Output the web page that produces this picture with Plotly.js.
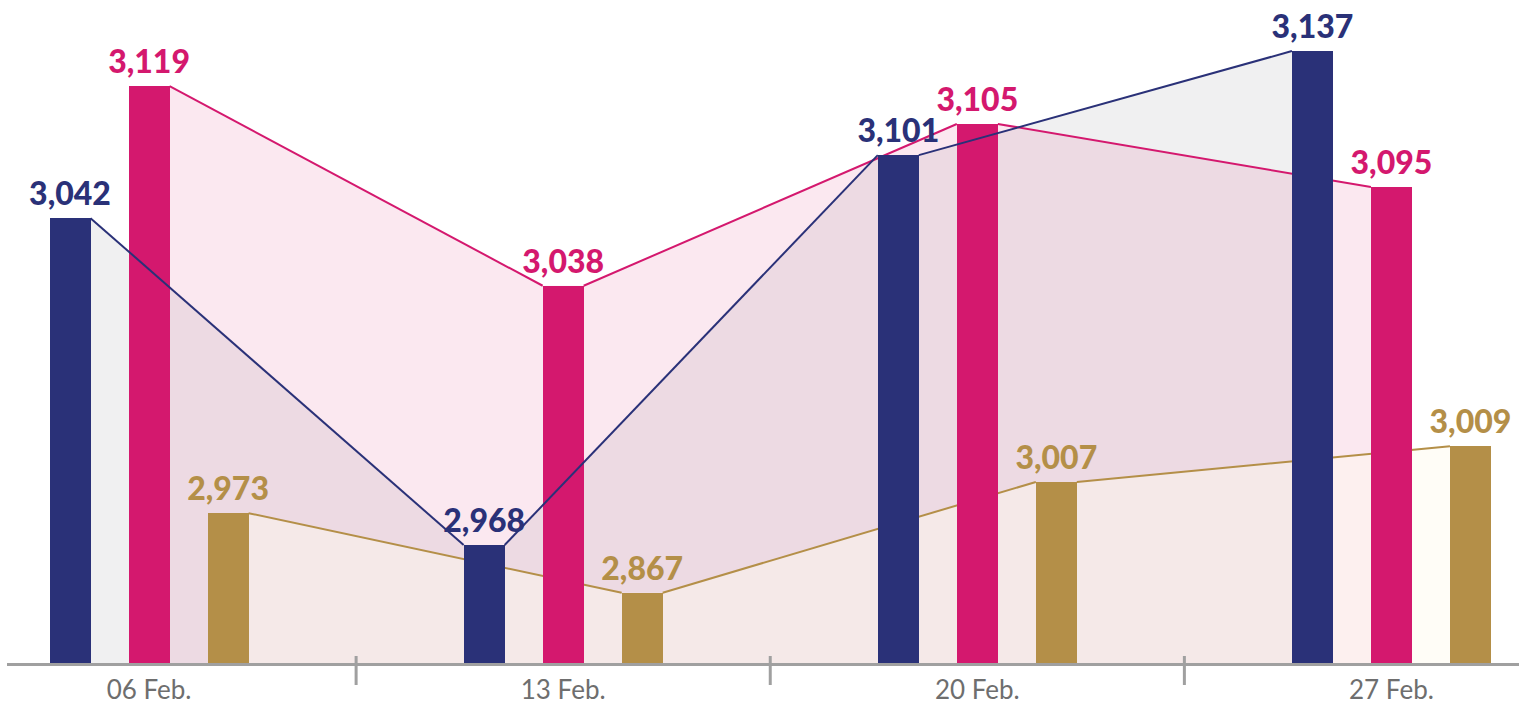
<!DOCTYPE html>
<html>
<head>
<meta charset="utf-8">
<script src="https://cdn.plot.ly/plotly-3.0.1.min.js"></script>
<style>
  html, body { margin: 0; padding: 0; background: #ffffff; }
  #chart { width: 1530px; height: 704px; }
</style>
</head>
<body>
<div id="chart"></div>
<script>
// ---- data ----
const weeks = ['06 Feb.', '13 Feb.', '20 Feb.', '27 Feb.'];
const navyValues = [3042, 2968, 3101, 3137];
const magentaValues = [3119, 3038, 3105, 3095];
const goldValues = [2973, 2867, 3007, 3009];
// bar heights as drawn in the original (percent of plot height; the infographic is not to scale)
const navyHeights = [67.1, 17.8, 76.6, 92.3];
const magentaHeights = [87.0, 56.9, 81.3, 71.8];
const goldHeights = [22.6, 10.6, 27.3, 32.7];

// ---- styling ----
const NAVY = '#2a3178', MAGENTA = '#d4186e', GOLD = '#b48f48';
const pitch = 0.1908, barW = 0.099;
const groupIdx = weeks.map((_, i) => i);
const labelFont = (c) => ({ family: 'Lato, "Open Sans", sans-serif', size: 32, weight: 900, color: c });

function fmt(v) { return v.toLocaleString('en-US'); }

function series(offset, heights) {
  // polyline from each bar's top-right corner to the next bar's top-left corner
  const fx = [], fy = [], lx = [], ly = [];
  for (let i = 0; i < heights.length; i++) {
    const c = groupIdx[i] + offset;
    if (i > 0) { fx.push(c - barW / 2); fy.push(heights[i]); lx.push(c - barW / 2); ly.push(heights[i]); }
    if (i < heights.length - 1) {
      fx.push(c + barW / 2); fy.push(heights[i]);
      if (i > 0) { lx.push(null); ly.push(null); }
      lx.push(c + barW / 2); ly.push(heights[i]);
    }
  }
  return { fx, fy, lx, ly };
}

const sNavy = series(-pitch, navyHeights);
const sMag = series(0, magentaHeights);
const sGold = series(pitch, goldHeights);

function bar(offset, heights, color, xa, ya, name) {
  return {
    type: 'bar', name: name,
    x: groupIdx.map(i => i + offset), y: heights, width: barW,
    marker: { color: color, line: { width: 0 } },
    xaxis: xa, yaxis: ya, hoverinfo: 'skip', showlegend: false
  };
}

function labels(offset, heights, values, color) {
  return {
    type: 'scatter', mode: 'markers+text',
    x: groupIdx.map(i => i + offset), y: heights,
    text: values.map(fmt), textposition: 'top center', textfont: labelFont(color),
    marker: { size: 6, color: 'rgba(0,0,0,0)' }, cliponaxis: false,
    xaxis: 'x3', yaxis: 'y3', hoverinfo: 'skip', showlegend: false
  };
}

const traces = [
  // fills (bottom layer)
  { type: 'scatter', mode: 'lines', x: sNavy.fx, y: sNavy.fy, fill: 'tozeroy',
    fillcolor: '#f0f0f1', line: { width: 0, color: 'rgba(0,0,0,0)' }, hoverinfo: 'skip', showlegend: false },
  { type: 'scatter', mode: 'lines', x: sMag.fx, y: sMag.fy, fill: 'tozeroy',
    fillcolor: 'rgba(212,25,111,0.1)', line: { width: 0, color: 'rgba(0,0,0,0)' }, hoverinfo: 'skip', showlegend: false },
  { type: 'scatter', mode: 'lines', x: sGold.fx, y: sGold.fy, fill: 'tozeroy',
    fillcolor: 'rgba(255,250,238,0.45)', line: { width: 0, color: 'rgba(0,0,0,0)' }, hoverinfo: 'skip', showlegend: false },
  { type: 'scatter', mode: 'lines', x: sGold.lx, y: sGold.ly, connectgaps: false,
    line: { width: 2, color: GOLD }, hoverinfo: 'skip', showlegend: false },
  // gold & magenta bars, magenta line
  bar(pitch, goldHeights, GOLD, 'x2', 'y2', 'gold'),
  bar(0, magentaHeights, MAGENTA, 'x2', 'y2', 'magenta'),
  { type: 'scatter', mode: 'lines', x: sMag.lx, y: sMag.ly, connectgaps: false,
    line: { width: 2, color: MAGENTA }, xaxis: 'x2', yaxis: 'y2', hoverinfo: 'skip', showlegend: false },
  // navy bars and line on top
  bar(-pitch, navyHeights, NAVY, 'x3', 'y3', 'navy'),
  { type: 'scatter', mode: 'lines', x: sNavy.lx, y: sNavy.ly, connectgaps: false,
    line: { width: 2, color: NAVY }, xaxis: 'x3', yaxis: 'y3', hoverinfo: 'skip', showlegend: false },
  // value labels
  labels(-pitch, navyHeights, navyValues, NAVY),
  labels(0, magentaHeights, magentaValues, MAGENTA),
  labels(pitch, goldHeights, goldValues, GOLD)
];

const xRange = [-0.343, 3.308];
const yRange = [0, 100];
const hiddenX = (ov) => ({ overlaying: ov, range: xRange, visible: false, fixedrange: true });
const hiddenY = (ov) => ({ overlaying: ov, range: yRange, visible: false, fixedrange: true });

const dividers = groupIdx.slice(0, -1).map(i => ({
  type: 'line', xref: 'x', yref: 'paper', ysizemode: 'pixel', yanchor: 0,
  x0: i + 0.5, x1: i + 0.5, y0: 7, y1: -22,
  line: { color: '#a0a0a0', width: 3 }
}));

const layout = {
  width: 1530, height: 704,
  margin: { l: 7, r: 11, t: 0, b: 41 },
  paper_bgcolor: '#ffffff', plot_bgcolor: 'rgba(0,0,0,0)',
  barmode: 'overlay', bargap: 0,
  showlegend: false,
  xaxis: {
    range: xRange, tickvals: groupIdx, ticktext: weeks, ticks: '',
    showgrid: false, zeroline: false, showline: true, linecolor: '#a0a0a0', linewidth: 3,
    tickfont: { family: 'Lato, "Open Sans", sans-serif', size: 26, color: '#6e6e6e' },
    ticklabelstandoff: 2,
    fixedrange: true
  },
  yaxis: { range: yRange, visible: false, fixedrange: true },
  xaxis2: hiddenX('x'), yaxis2: hiddenY('y'),
  xaxis3: hiddenX('x'), yaxis3: hiddenY('y'),
  shapes: dividers
};

Plotly.newPlot('chart', traces, layout, { staticPlot: true, displayModeBar: false });
</script>
</body>
</html>
